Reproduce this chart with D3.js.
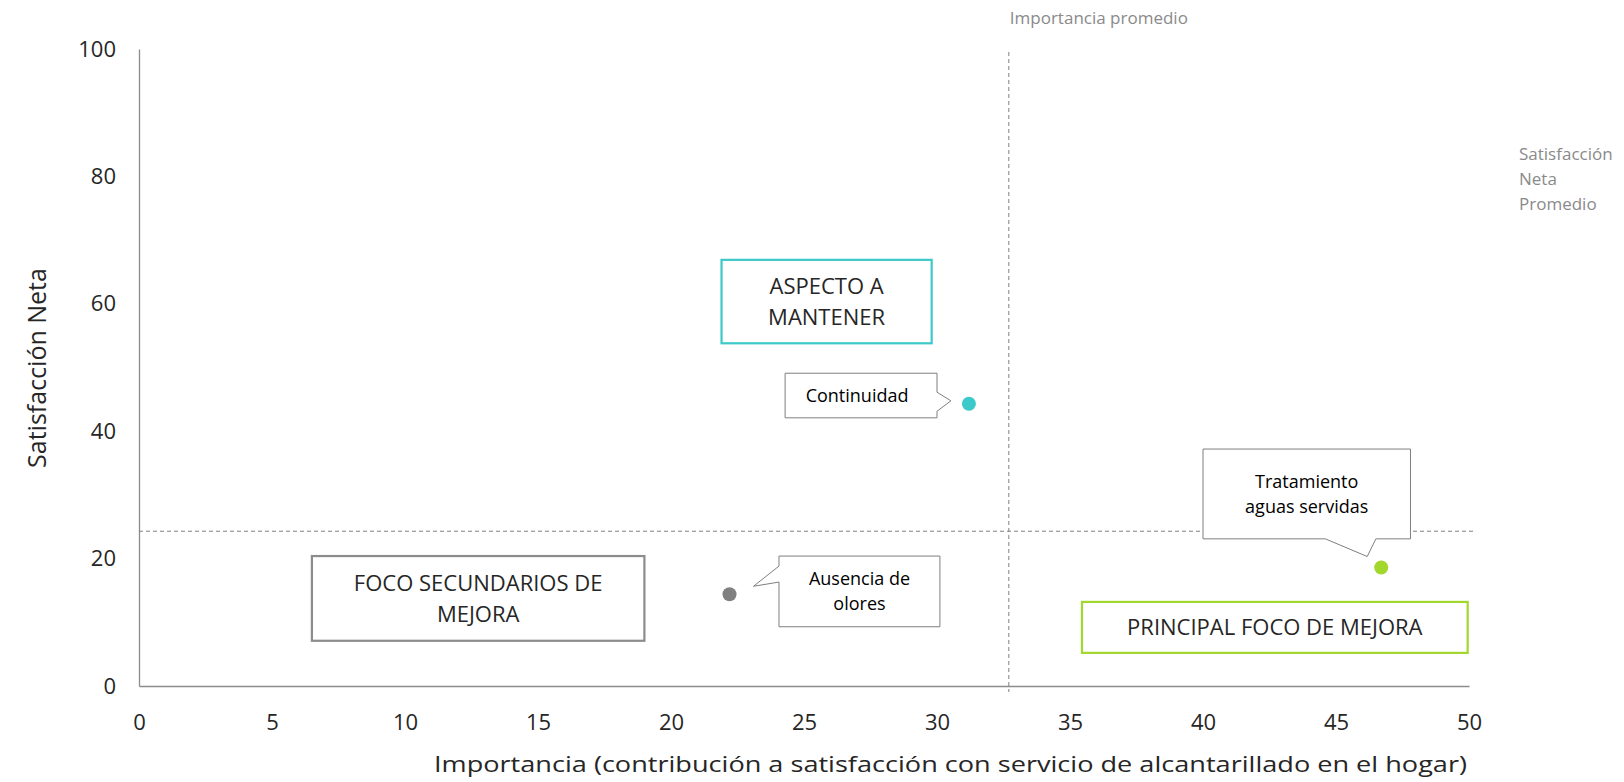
<!DOCTYPE html>
<html>
<head>
<meta charset="utf-8">
<script src="https://cdn.jsdelivr.net/npm/d3@7"></script>
<style>
  body { margin: 0; background: #fff; }
  text { font-family: "Open Sans", "Noto Sans", sans-serif; }
</style>
</head>
<body>
<div id="chart"></div>
<script>
// Importancia vs Satisfaccion Neta - alcantarillado

// data
var attributes = ["Continuidad", "Ausencia de olores", "Tratamiento aguas servidas"];
var importancia = [31.2, 22.2, 46.7];
var satisfaccion = [44.3, 14.4, 18.6];
var pointColors = ["#3cc9c9", "#808080", "#a2d72e"];

var xTicks = [0, 5, 10, 15, 20, 25, 30, 35, 40, 45, 50];
var yTicks = [0, 20, 40, 60, 80, 100];

var avgImportancia = 32.7;
var avgSatisfaccion = 24.3;

// quadrant labels (data units: x0, x1, yTop, yBottom)
var quadrantNames = [["ASPECTO A", "MANTENER"], ["FOCO SECUNDARIOS DE", "MEJORA"], ["PRINCIPAL FOCO DE MEJORA"]];
var quadrantBoxes = [[21.9, 29.8, 66.9, 53.8], [6.5, 19.0, 20.4, 7.1], [35.45, 49.95, 13.2, 5.2]];
var quadrantColors = ["#3cc9c9", "#8c8c8c", "#a2d72e"];

// callout boxes (data units) for each attribute
var calloutLines = [["Continuidad"], ["Ausencia de", "olores"], ["Tratamiento", "aguas servidas"]];
var calloutBoxes = [[24.29, 30.0, 49.1, 42.1], [24.06, 30.11, 20.4, 9.3], [40.0, 47.8, 37.2, 23.1]];

var svgWidth = 1624;
var svgHeight = 782;
var margin = { top: 49, right: 155, bottom: 96, left: 139 };
var width = svgWidth - margin.left - margin.right;
var height = svgHeight - margin.top - margin.bottom;

var svg = d3.select("#chart")
  .append("svg")
  .attr("width", svgWidth)
  .attr("height", svgHeight);

var chartGroup = svg.append("g")
  .attr("transform", `translate(${margin.left},${margin.top})`);

var x = d3.scaleLinear().domain([0, 50]).range([0, width]);
var y = d3.scaleLinear().domain([0, 100]).range([height, 0]);

// axes
var xAxis = chartGroup.append("g")
  .attr("transform", `translate(0,${height})`)
  .call(d3.axisBottom(x).tickValues(xTicks).tickSize(0).tickPadding(28));

var yAxis = chartGroup.append("g")
  .call(d3.axisLeft(y).tickValues(yTicks).tickSize(0).tickPadding(23));

[xAxis, yAxis].forEach(function(ax) {
  ax.select(".domain").attr("stroke", "#8c8c8c").attr("stroke-width", 1.3);
  ax.selectAll("text")
    .attr("fill", "#262626")
    .style("font-size", "22px")
    .style("font-family", "'Open Sans', sans-serif");
});

// average lines
chartGroup.append("line")
  .attr("x1", x(avgImportancia)).attr("x2", x(avgImportancia))
  .attr("y1", y(100) + 3).attr("y2", height + 6)
  .attr("stroke", "#808080")
  .attr("stroke-width", 1)
  .attr("stroke-dasharray", "4,3");

chartGroup.append("line")
  .attr("x1", 0).attr("x2", x(50) + 4)
  .attr("y1", y(avgSatisfaccion)).attr("y2", y(avgSatisfaccion))
  .attr("stroke", "#808080")
  .attr("stroke-width", 1)
  .attr("stroke-dasharray", "4,3");

svg.append("text")
  .attr("x", margin.left + x(avgImportancia) + 1)
  .attr("y", 24)
  .attr("fill", "#8a8a8a")
  .style("font-size", "17px")
  .text("Importancia promedio");

var avgLabel = svg.append("text")
  .attr("x", 1519)
  .attr("y", 160)
  .attr("fill", "#8a8a8a")
  .style("font-size", "17px");
["Satisfacción", "Neta", "Promedio"].forEach(function(t, i) {
  avgLabel.append("tspan").attr("x", 1519).attr("dy", i === 0 ? 0 : 25).text(t);
});

// quadrant boxes
quadrantBoxes.forEach(function(b, i) {
  var g = chartGroup.append("g");
  g.append("rect")
    .attr("x", x(b[0])).attr("y", y(b[2]))
    .attr("width", x(b[1]) - x(b[0]))
    .attr("height", y(b[3]) - y(b[2]))
    .attr("fill", "#fff")
    .attr("stroke", quadrantColors[i])
    .attr("stroke-width", 2.2);
  var lines = quadrantNames[i];
  var cy = (y(b[2]) + y(b[3])) / 2;
  lines.forEach(function(t, j) {
    g.append("text")
      .attr("x", (x(b[0]) + x(b[1])) / 2)
      .attr("y", cy + (j - (lines.length - 1) / 2) * 31)
      .attr("dy", "0.35em")
      .attr("text-anchor", "middle")
      .attr("fill", "#262626")
      .style("font-size", "22px")
      .text(t);
  });
});

// callouts with tails pointing to each point
function calloutPath(i) {
  var b = calloutBoxes[i];
  var x0 = x(b[0]), x1 = x(b[1]), y0 = y(b[2]), y1 = y(b[3]);
  var px = x(importancia[i]), py = y(satisfaccion[i]);
  if (i === 0) {
    // tail on the right side
    return `M${x0},${y0}H${x1}V${y0 + 19}L${px - 18},${py - 3}L${x1},${y0 + 38}V${y1}H${x0}Z`;
  } else if (i === 1) {
    // tail on the left side
    return `M${x0},${y0}H${x1}V${y1}H${x0}V${y0 + 26}L${px + 24},${py - 8}L${x0},${y0 + 10}Z`;
  }
  // tail at the bottom
  return `M${x0},${y0}H${x1}V${y1}H${x(46.5)}L${px - 14},${py - 11}L${x(44.6)},${y1}H${x0}Z`;
}

attributes.forEach(function(name, i) {
  var b = calloutBoxes[i];
  var g = chartGroup.append("g");
  g.append("path")
    .attr("d", calloutPath(i))
    .attr("fill", "#fff")
    .attr("stroke", "#7f7f7f")
    .attr("stroke-width", 1);
  var lines = calloutLines[i];
  var cy = (y(b[2]) + y(b[3])) / 2;
  lines.forEach(function(t, j) {
    g.append("text")
      .attr("x", (x(b[0]) + x(b[1])) / 2 - (i === 0 ? 4 : 0))
      .attr("y", cy + (j - (lines.length - 1) / 2) * 25)
      .attr("dy", "0.35em")
      .attr("text-anchor", "middle")
      .attr("fill", "#000")
      .style("font-size", "18px")
      .text(t);
  });
});

// points
chartGroup.selectAll("circle.pt")
  .data(attributes)
  .enter()
  .append("circle")
  .attr("class", "pt")
  .attr("cx", (d, i) => x(importancia[i]))
  .attr("cy", (d, i) => y(satisfaccion[i]))
  .attr("r", 7)
  .attr("fill", (d, i) => pointColors[i]);

// axis titles
svg.append("text")
  .attr("x", 1467)
  .attr("y", 772)
  .attr("text-anchor", "end")
  .attr("fill", "#262626")
  .style("font-size", "22px")
  .attr("textLength", 1033)
  .attr("lengthAdjust", "spacingAndGlyphs")
  .text("Importancia (contribución a satisfacción con servicio de alcantarillado en el hogar)");

svg.append("text")
  .attr("transform", "rotate(-90)")
  .attr("x", -368)
  .attr("y", 46)
  .attr("text-anchor", "middle")
  .attr("fill", "#262626")
  .style("font-size", "25px")
  .text("Satisfacción Neta");
</script>
</body>
</html>
